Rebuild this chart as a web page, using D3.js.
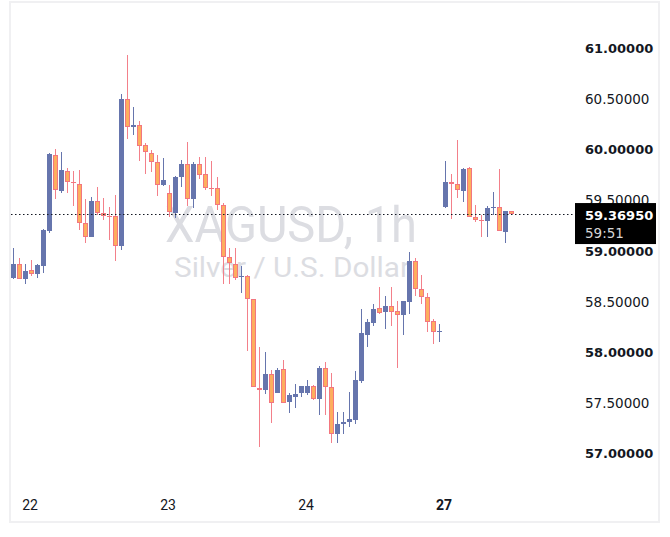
<!DOCTYPE html>
<html><head><meta charset="utf-8">
<script src="https://cdn.jsdelivr.net/npm/d3@7"></script>
<style>html,body{margin:0;padding:0;background:#fff;} svg{display:block}</style>
</head><body>
<svg id="chart" width="670" height="537"></svg>
<script>
// Hourly candles XAGUSD (index 0 = first visible bar)
const opens = [58.737,58.872,58.721,58.813,58.770,58.855,59.200,59.947,59.595,59.789,
  59.681,59.661,59.276,59.141,59.493,59.375,59.348,59.342,59.052,60.500,
  60.221,60.240,60.043,59.964,59.875,59.648,59.569,59.375,59.733,59.855,
  59.516,59.855,59.757,59.625,59.619,59.457,58.938,58.869,58.746,58.750,
  58.523,57.651,57.632,57.783,57.602,57.836,57.507,57.562,57.596,57.602,
  57.665,57.537,57.843,57.655,57.194,57.293,57.316,57.333,57.720,58.174,
  58.293,58.435,58.401,58.457,58.408,58.372,58.500,58.901,58.622,58.543,
  58.306,58.208,59.437,59.681,59.658,59.595,59.816,59.332,59.303,59.299,
  59.428,59.431,59.190,59.392];
const highs = [59.030,58.928,58.872,58.911,58.872,59.217,59.967,60.006,59.977,59.819,
  59.789,59.799,59.513,59.533,59.632,59.523,59.434,59.553,60.549,60.934,
  60.421,60.283,60.063,59.994,59.944,59.918,59.648,59.743,59.898,60.078,
  59.875,59.928,59.925,59.891,59.727,59.471,59.027,59.030,58.852,58.766,
  58.523,58.050,58.006,57.829,57.846,57.925,57.602,57.685,57.668,57.727,
  57.678,57.865,57.908,57.796,57.409,57.412,57.609,57.816,58.428,58.329,
  58.474,58.645,58.556,58.645,58.507,58.507,58.987,58.928,58.763,58.586,
  58.326,58.280,59.888,59.760,60.095,59.822,59.829,59.454,59.355,59.444,
  59.585,59.809,59.395,59.392];
const lows = [58.721,58.721,58.671,58.753,58.737,58.780,59.181,59.516,59.575,59.575,
  59.447,59.210,59.082,59.141,59.352,59.306,59.109,58.904,59.013,60.108,
  60.148,59.891,59.763,59.782,59.546,59.641,59.332,59.329,59.634,59.447,
  59.427,59.707,59.599,59.546,59.408,58.671,58.671,58.714,58.589,58.016,
  57.655,57.069,57.586,57.300,57.602,57.497,57.405,57.454,57.562,57.579,
  57.530,57.382,57.382,57.103,57.109,57.191,57.266,57.296,57.701,58.056,
  58.263,58.381,58.233,58.260,57.849,58.174,58.381,58.556,58.480,58.204,
  58.085,58.105,59.427,59.319,59.526,59.486,59.332,59.289,59.141,59.141,
  59.355,59.194,59.082,59.3695];
const closes = [58.872,58.727,58.803,58.770,58.862,59.207,59.957,59.599,59.799,59.678,
  59.668,59.273,59.135,59.493,59.372,59.345,59.340,59.046,60.500,60.221,
  60.240,60.033,59.974,59.875,59.648,59.698,59.382,59.733,59.855,59.510,
  59.858,59.747,59.619,59.619,59.451,58.938,58.879,58.737,58.750,58.523,
  57.655,57.629,57.786,57.503,57.826,57.503,57.579,57.589,57.668,57.668,
  57.537,57.843,57.655,57.191,57.293,57.313,57.342,57.727,58.191,58.300,
  58.425,58.391,58.457,58.401,58.366,58.507,58.901,58.622,58.543,58.302,
  58.198,58.211,59.681,59.658,59.599,59.809,59.332,59.303,59.300,59.424,
  59.431,59.194,59.395,59.3695];
const dayStarts = [3, 26, 49, 72];
const dayLabels = ["22", "23", "24", "27"];
const dayBold = [false, false, false, true];
const priceTicks = [57, 57.5, 58, 58.5, 59, 59.5, 60, 60.5, 61];
const lastPrice = 59.3695;
const countdown = "59:51";
const watermarkTitle = "XAGUSD, 1h";
const watermarkSub = "Silver / U.S. Dollar";

const svg = d3.select('#chart');
const x = d3.scaleLinear().domain([0, opens.length - 1]).range([13.5, 13.5 + 6 * (opens.length - 1)]);
const y = d3.scaleLinear().domain([57, 61]).range([453.7, 48.3]);

// frame
svg.append('rect').attr('x', 10).attr('y', 2).attr('width', 649).attr('height', 520)
  .attr('fill', '#fff').attr('stroke', '#f0f0f2').attr('stroke-width', 2);

// watermark
svg.append('text').text(watermarkTitle).attr('x', 291).attr('y', 242)
  .attr('text-anchor', 'middle').attr('font-family', 'Roboto, sans-serif').attr('font-size', 50)
  .attr('textLength', 252).attr('lengthAdjust', 'spacingAndGlyphs')
  .attr('fill', '#dcdde2');
svg.append('text').text(watermarkSub).attr('x', 292).attr('y', 277)
  .attr('text-anchor', 'middle').attr('font-family', 'Roboto, sans-serif').attr('font-size', 27)
  .attr('textLength', 236).attr('lengthAdjust', 'spacingAndGlyphs')
  .attr('fill', '#dcdde2');

const data = opens.map((o, i) => ({i, o, h: highs[i], l: lows[i], c: closes[i]}));
const UP = '#6675ad', DOWN_FILL = '#fdae5e', DOWN_BORDER = '#f3767f', DOWN_WICK = '#f3808a';

const g = svg.append('g');
data.forEach(d => {
  const up = d.c >= d.o;
  const cx = x(d.i);
  const yh = Math.round(y(d.h)), yl = Math.round(y(d.l));
  g.append('line').attr('x1', cx).attr('x2', cx).attr('y1', yh).attr('y2', Math.max(yl, yh + 1))
    .attr('stroke', up ? UP : DOWN_WICK).attr('stroke-width', 1);
  const top = Math.round(y(Math.max(d.o, d.c)));
  let bot = Math.round(y(Math.min(d.o, d.c)));
  if (bot - top < 1) bot = top + 1;
  g.append('rect').attr('x', cx - 2.5).attr('y', top).attr('width', 5).attr('height', bot - top)
    .attr('fill', up ? UP : DOWN_BORDER);
  if (!up && bot - top > 2) {
    g.append('rect').attr('x', cx - 1.5).attr('y', top + 1).attr('width', 3).attr('height', bot - top - 2)
      .attr('fill', DOWN_FILL);
  }
});

// last price dotted line
const ly = Math.round(y(lastPrice)) + 0.5;
svg.append('line').attr('x1', 11).attr('x2', 575).attr('y1', ly).attr('y2', ly)
  .attr('stroke', '#131722').attr('stroke-width', 1).attr('stroke-dasharray', '1.5,2.5');

// price axis labels
svg.append('g').selectAll('text').data(priceTicks).join('text')
  .attr('x', 585).attr('y', d => y(d)).attr('dy', '0.36em')
  .attr('font-family', 'DejaVu Sans, sans-serif')
  .attr('font-size', d => Number.isInteger(d) ? 13 : 13.5)
  .attr('font-weight', d => Number.isInteger(d) ? 'bold' : 'normal')
  .attr('fill', '#131722').text(d => d.toFixed(5));

// last price box
const by = y(lastPrice) - 10.5;
svg.append('rect').attr('x', 575).attr('y', by).attr('width', 81).attr('height', 41).attr('fill', '#000');
svg.append('text').attr('x', 585).attr('y', by + 12.5).attr('dy', '0.36em')
  .attr('font-family', 'DejaVu Sans, sans-serif').attr('font-size', 13).attr('font-weight', 'bold')
  .attr('fill', '#fff').text(lastPrice.toFixed(5));
svg.append('text').attr('x', 585).attr('y', by + 30.5).attr('dy', '0.36em')
  .attr('font-family', 'DejaVu Sans, sans-serif').attr('font-size', 13.5)
  .attr('fill', '#d6d6d6').text(countdown);

// time axis labels
svg.append('g').selectAll('text').data(dayStarts).join('text')
  .attr('x', d => x(d) - 1.5).attr('y', 510).attr('text-anchor', 'middle')
  .attr('font-family', 'Roboto, sans-serif').attr('font-size', 14)
  .attr('font-weight', (d, k) => dayBold[k] ? 'bold' : 'normal')
  .attr('fill', '#131722').text((d, k) => dayLabels[k]);
</script>
</body></html>
